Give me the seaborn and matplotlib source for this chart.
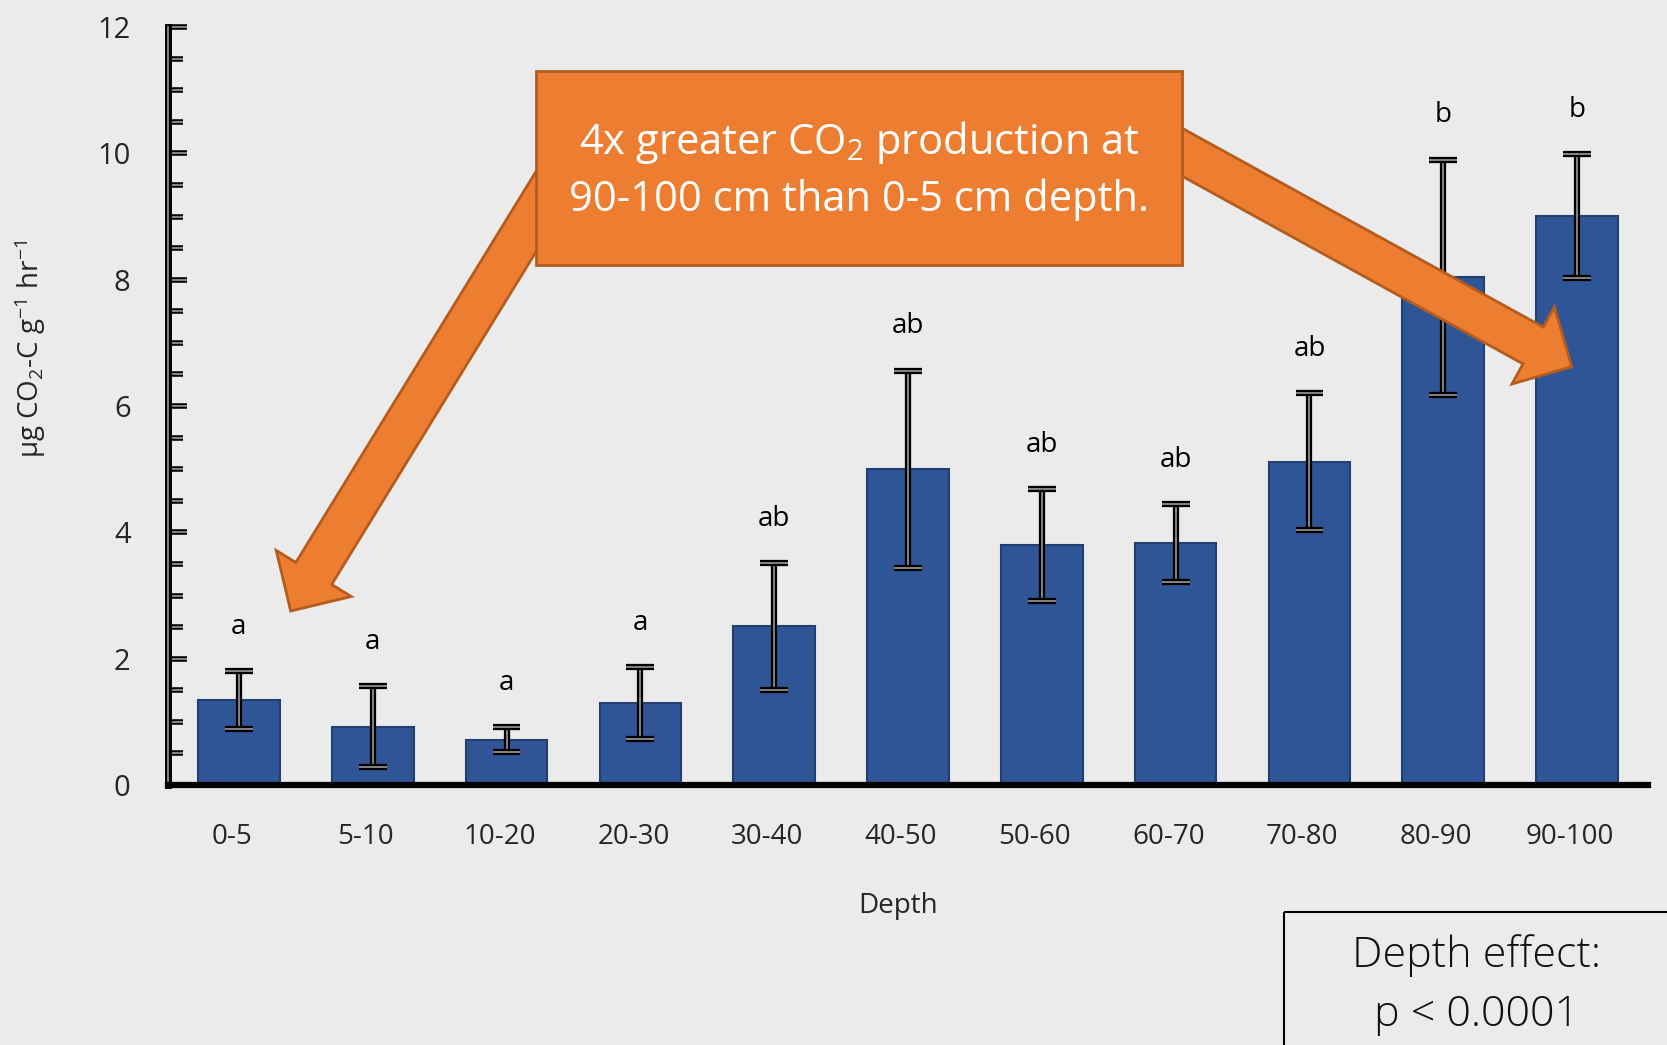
import numpy as np
import pandas as pd
import matplotlib
matplotlib.use("Agg")
import matplotlib.pyplot as plt
import matplotlib.patheffects as pe
import matplotlib.transforms as mtransforms
from matplotlib.patches import FancyArrow, Rectangle
import seaborn as sns

# Soil respiration by depth increment
depths = ["0-5", "5-10", "10-20", "20-30", "30-40", "40-50",
          "50-60", "60-70", "70-80", "80-90", "90-100"]
co2_rate = [1.34, 0.92, 0.72, 1.30, 2.51, 5.00, 3.80, 3.83, 5.12, 8.04, 9.01]
co2_err = [0.46, 0.64, 0.20, 0.57, 1.00, 1.56, 0.88, 0.62, 1.08, 1.86, 0.98]
groups = ["a", "a", "a", "a", "ab", "ab", "ab", "ab", "ab", "b", "b"]

BG = "#EBEBEB"
BAR = "#2F5597"
BAR_EDGE = "#22406F"
ORANGE = "#ED7D31"
ORANGE_EDGE = "#B35C1E"

sns.set_theme(style="white")
plt.rcParams["font.family"] = ["Open Sans", "DejaVu Sans"]
plt.rcParams["mathtext.fontset"] = "custom"
plt.rcParams["mathtext.rm"] = "Open Sans"
plt.rcParams["mathtext.default"] = "regular"

W, H = 1667, 1045
fig = plt.figure(figsize=(W / 100, H / 100), dpi=100, facecolor=BG)
ax_l, ax_r, ax_b, ax_t = 168, 1648, 785, 27
ax = fig.add_axes([ax_l / W, 1 - ax_b / H, (ax_r - ax_l) / W, (ax_b - ax_t) / H])
ax.set_facecolor(BG)

df = pd.DataFrame({"Depth": depths, "rate": co2_rate})
sns.barplot(data=df, x="Depth", y="rate", order=depths, color=BAR,
            saturation=1, width=0.61, edgecolor=BAR_EDGE, linewidth=1.5,
            errorbar=None, ax=ax, zorder=2)

# Hollow-looking error bars: pale core with a black outline
xpos = np.arange(len(depths))
eb = ax.errorbar(xpos, co2_rate, yerr=co2_err, fmt="none", ecolor="#9a9a9a",
                 elinewidth=1.2, capsize=10, capthick=1.2, zorder=3)
outline = [pe.Stroke(linewidth=4.5, foreground="black"), pe.Normal()]
for ln in eb.lines[1]:
    ln.set_path_effects(outline)
for coll in eb.lines[2]:
    coll.set_path_effects(outline)

for i, (m, e, g) in enumerate(zip(co2_rate, co2_err, groups)):
    ax.text(i, m + e + 0.7, g, ha="center", va="center", fontsize=20,
            color="black", zorder=4)

ax.set_xlim(-0.53, len(depths) - 0.47)
ax.set_ylim(0, 12)
ax.set_yticks(np.arange(0, 13, 2))
ax.set_yticks(np.arange(0, 12.01, 0.5), minor=True)
ax.tick_params(axis="y", which="major", direction="in", length=14, width=1.2,
               color="#9a9a9a", labelsize=21, pad=27, left=True)
ax.tick_params(axis="y", which="minor", direction="in", length=11, width=1.2,
               color="#9a9a9a", left=True)
for t in ax.yaxis.get_majorticklines() + ax.yaxis.get_minorticklines():
    t.set_path_effects([pe.Stroke(linewidth=4, foreground="black"), pe.Normal()])
ax.tick_params(axis="x", length=0, labelsize=20, pad=27)
shift = mtransforms.ScaledTranslation(-7 / 100, 0, fig.dpi_scale_trans)
for lbl in ax.get_xticklabels():
    lbl.set_transform(lbl.get_transform() + shift)

for s in ["top", "right"]:
    ax.spines[s].set_visible(False)
ax.spines["bottom"].set_linewidth(4.5)
ax.spines["bottom"].set_color("black")
ax.spines["left"].set_linewidth(1.2)
ax.spines["left"].set_color("#9a9a9a")
ax.spines["left"].set_path_effects([pe.Stroke(linewidth=5, foreground="black"), pe.Normal()])

ax.set_xlabel("Depth", fontsize=20, va="center")
ax.xaxis.set_label_coords((898 - ax_l) / (ax_r - ax_l), -(906 - ax_b) / (ax_b - ax_t))
ax.set_ylabel(r"µg CO$_2$-C g$^{-1}$ hr$^{-1}$", fontsize=20, va="center")
ax.yaxis.set_label_coords(-(ax_l - 30) / (ax_r - ax_l), (ax_b - 349) / (ax_b - ax_t))

# Overlay in pixel units for the callout and block arrows
ov = fig.add_axes([0, 0, 1, 1], zorder=10)
ov.set_xlim(0, W)
ov.set_ylim(H, 0)
ov.axis("off")
ov.patch.set_alpha(0)

arrow_kw = dict(width=42, head_width=88, head_length=44, length_includes_head=True,
                facecolor=ORANGE, edgecolor=ORANGE_EDGE, linewidth=2)
# left arrow: from the box toward the shallow bars
tail_l = np.array([580.0, 140.0])
tip_l = np.array([290.7, 611.0])
ov.add_patch(FancyArrow(*tail_l, *(tip_l - tail_l), **arrow_kw))
# right arrow: from the box toward the deepest bar
tail_r = np.array([1120.0, 118.0])
tip_r = np.array([1571.7, 366.7])
ov.add_patch(FancyArrow(*tail_r, *(tip_r - tail_r), **arrow_kw))

ov.add_patch(Rectangle((536, 71), 646, 194, facecolor=ORANGE,
                       edgecolor=ORANGE_EDGE, linewidth=2))
ov.text(859, 170, "4x greater CO$_2$ production at\n90-100 cm than 0-5 cm depth.",
        ha="center", va="center", color="white", fontsize=30, linespacing=1.37)

ov.add_patch(Rectangle((1284, 912), 500, 200, facecolor="none",
                       edgecolor="black", linewidth=1.5))
ov.text(1477, 956, "Depth effect:", ha="center", va="center", fontsize=31,
        fontweight="light", color="#111111")
ov.text(1477, 1015, "p < 0.0001", ha="center", va="center", fontsize=31,
        fontweight="light", color="#111111")

fig.savefig("out.png", dpi=100, facecolor=BG)
